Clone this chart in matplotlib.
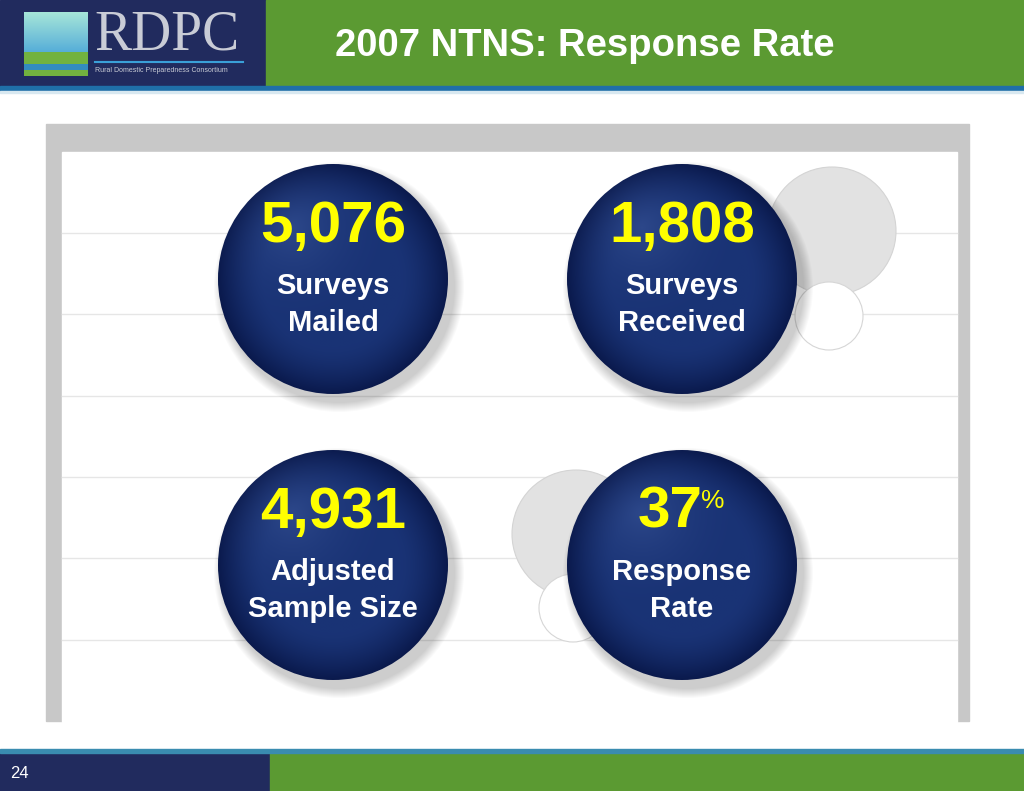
import numpy as np
import matplotlib.pyplot as plt
from matplotlib.patches import Circle, Rectangle

## slide data
title = '2007 NTNS: Response Rate'
page_no = '24'
values = ['5,076', '1,808', '4,931', '37']
suffix = ['', '', '', '%']
captions = [['Surveys', 'Mailed'], ['Surveys', 'Received'],
            ['Adjusted', 'Sample Size'], ['Response', 'Rate']]

sans = ['Liberation Sans', 'DejaVu Sans']

navy = '#212b5e'
green = '#5b9a32'

fig = plt.figure(figsize=(10.24, 7.91), dpi=100)
ax = fig.add_axes([0, 0, 1, 1])
ax.set_xlim(0, 1024)
ax.set_ylim(791, 0)
ax.axis('off')

## header / footer
ax.add_patch(Rectangle((0, 0), 266, 87, color=navy, zorder=1))
ax.add_patch(Rectangle((266, 0), 758, 87, color=green, zorder=1))
ax.add_patch(Rectangle((0, 86), 1024, 5, color='#1f6fa8', zorder=2))
ax.add_patch(Rectangle((0, 91), 1024, 2, color='#d8e8f0', zorder=2))
ax.text(585, 46, title, family=sans, weight='bold', fontsize=27.5,
        color='white', ha='center', va='center', zorder=3)

ax.add_patch(Rectangle((0, 749), 1024, 4, color='#3a8cb0', zorder=2))
ax.add_patch(Rectangle((0, 752), 270, 39, color=navy, zorder=1))
ax.add_patch(Rectangle((270, 752), 754, 39, color=green, zorder=1))
ax.text(10, 773, page_no, family=sans, fontsize=12, color='white',
        ha='left', va='center', zorder=3)

## logo
sky = np.linspace(0, 1, 64)[:, None] * np.ones((1, 64))
logo = np.zeros((64, 64, 3))
logo[..., 0] = 0.15 + 0.5 * (1 - sky)
logo[..., 1] = 0.55 + 0.35 * (1 - sky)
logo[..., 2] = 0.85
logo[40:, :, :] = [0.45, 0.70, 0.25]
logo[52:58, :, :] = [0.20, 0.55, 0.75]
ax.imshow(logo, extent=(24, 88, 76, 12), zorder=2)
ax.text(94, 35, 'RDPC', family=['Liberation Serif', 'DejaVu Serif'],
        fontsize=40, color='#c9ccd6', ha='left', va='center', zorder=3)
ax.plot([95, 243], [62, 62], color='#3aa0d8', lw=1.5, zorder=3)
ax.text(95, 70, 'Rural Domestic Preparedness Consortium', family=sans,
        fontsize=5, color='#c9ccd6', ha='left', va='center', zorder=3)

## grey frame and panel
ax.add_patch(Rectangle((46, 124), 923, 597, color='#c8c8c8', zorder=1))
ax.add_patch(Rectangle((62, 152), 895, 570, color='white', zorder=1))
for y in [233, 314, 396, 477, 558, 640]:
    ax.plot([62, 957], [y, y], color='#e6e6e6', lw=1, zorder=2)

## decorative circles
for cx, cy in [(832, 231), (576, 534)]:
    ax.add_patch(Circle((cx, cy), 64, facecolor='#e2e2e2',
                        edgecolor='#d4d4d4', lw=0.8, zorder=3))
for cx, cy in [(829, 316), (573, 608)]:
    ax.add_patch(Circle((cx, cy), 34, facecolor='white',
                        edgecolor='#d6d6d6', lw=0.8, zorder=3))

## bubbles
centers = [(333, 279), (682, 279), (333, 565), (682, 565)]
r = 115
n = 200
gx, gy = np.meshgrid(np.linspace(-1, 1, n), np.linspace(-1, 1, n))
d = np.sqrt(gx ** 2 + gy ** 2)
hl = np.sqrt((gx + 0.35) ** 2 + (gy + 0.45) ** 2)
base = np.array([0.10, 0.20, 0.46])
dark = np.array([0.04, 0.10, 0.30])
light = np.array([0.25, 0.36, 0.62])
t = np.clip((d - 0.6) / 0.4, 0, 1)[..., None] ** 1.5
h = np.clip(1 - hl / 0.9, 0, 1)[..., None] ** 2
img = base * (1 - t) + dark * t
img = img * (1 - 0.5 * h) + light * 0.5 * h
img = np.clip(img, 0, 1)

renderer = fig.canvas.get_renderer()
for i, (cx, cy) in enumerate(centers):
    for k in range(10):
        ax.add_patch(Circle((cx + 6, cy + 8), r + 10 - k, color='black',
                            alpha=0.02, lw=0, zorder=4))
    im = ax.imshow(img, extent=(cx - r, cx + r, cy + r, cy - r),
                   zorder=5, interpolation='bilinear')
    clip = Circle((cx, cy), r, transform=ax.transData)
    im.set_clip_path(clip)

    nx = cx - 12 if suffix[i] else cx
    num = ax.text(nx, cy - 52, values[i], family=sans, weight='bold',
                  fontsize=42, color='#ffff00', ha='center', va='center',
                  zorder=6)
    if suffix[i]:
        bb = num.get_window_extent(renderer)
        x_end = ax.transData.inverted().transform((bb.x1, bb.y1))[0]
        ax.text(x_end - 2, cy - 64, suffix[i], family=sans, fontsize=19,
                color='#ffff00', ha='left', va='center', zorder=6)
    ax.text(cx, cy + 7, captions[i][0], family=sans, weight='bold',
            fontsize=21, color='white', ha='center', va='center', zorder=6)
    ax.text(cx, cy + 44, captions[i][1], family=sans, weight='bold',
            fontsize=21, color='white', ha='center', va='center', zorder=6)

fig.savefig('out.png', dpi=100)
